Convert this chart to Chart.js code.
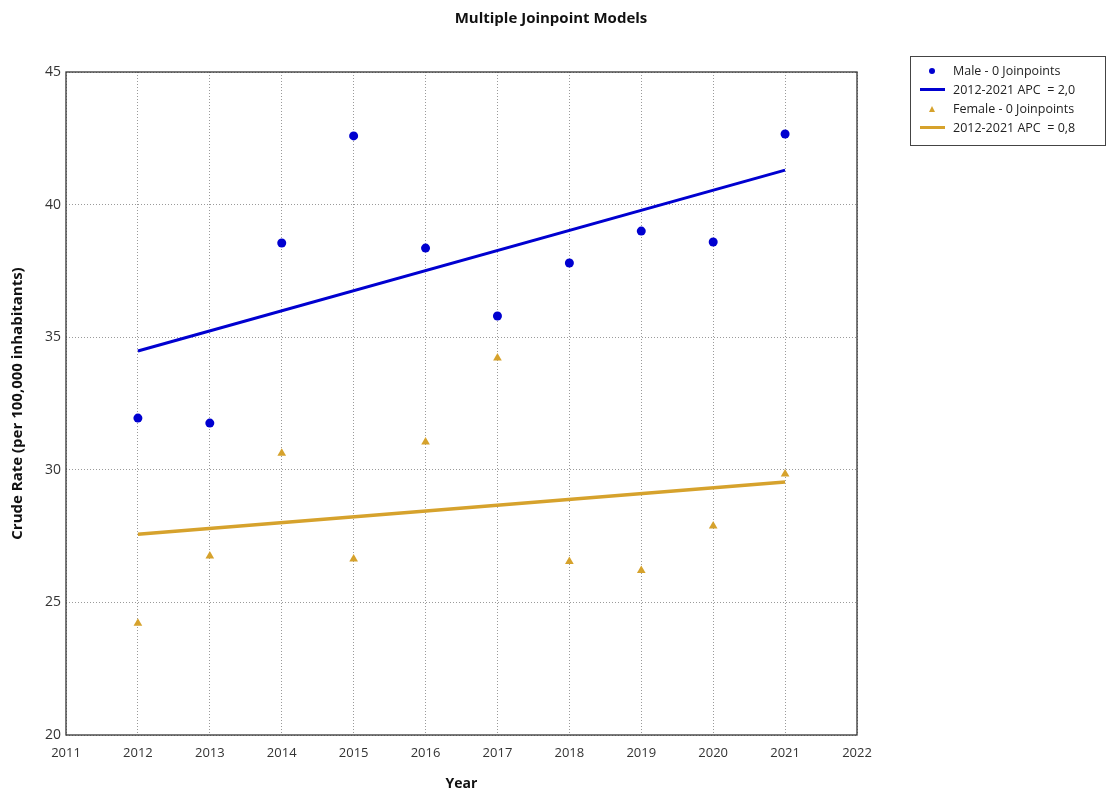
<!DOCTYPE html>
<html lang="en">
<head>
  <meta charset="UTF-8">
  <title>Multiple Joinpoint Models</title>
  <script src="https://cdn.jsdelivr.net/npm/chart.js"></script>
  <style>
    body { margin: 0; background: #fff; font-family: "Open Sans", sans-serif; }
    .wrap { position: relative; width: 1108px; height: 794px; }
    .chart-title {
      position: absolute; top: 7px; left: 0; width: 1102px;
      text-align: center; font-weight: bold; font-size: 15px; color: #111;
    }
    .legend-box {
      position: absolute; left: 910px; top: 56px; width: 196px; height: 90px;
      border: 1px solid #444; box-sizing: border-box; padding-top: 4px;
      font-size: 12.5px; color: #222;
    }
    .legend-row { height: 19px; line-height: 19px; display: flex; align-items: center; white-space: pre; }
    .legend-mark { width: 42px; display: flex; justify-content: center; align-items: center; }
  </style>
</head>
<body>
  <div class="wrap">
    <div class="chart-title">Multiple Joinpoint Models</div>
    <canvas id="jpChart"></canvas>
    <div class="legend-box" id="legend"></div>
  </div>

  <script>
    // values
    const years = [2012, 2013, 2014, 2015, 2016, 2017, 2018, 2019, 2020, 2021];
    const maleRate = [31.95, 31.76, 38.55, 42.59, 38.36, 35.80, 37.80, 39.00, 38.59, 42.66];
    const femaleRate = [24.21, 26.75, 30.62, 26.64, 31.05, 34.22, 26.54, 26.20, 27.88, 29.84];
    const trendYears = [2012, 2021];
    const maleTrend = [34.48, 41.30];
    const femaleTrend = [27.57, 29.54];
    const legendLabels = ['Male - 0 Joinpoints', '2012-2021 APC  = 2,0', 'Female - 0 Joinpoints', '2012-2021 APC  = 0,8'];

    const blue = '#0000d0';
    const gold = '#d6a22c';

    const toPoints = (xs, ys) => xs.map((x, i) => ({ x: x, y: ys[i] }));

    // frame around the plot area
    const frame = {
      id: 'frame',
      afterDraw(chart) {
        const a = chart.chartArea, c = chart.ctx;
        c.save();
        c.strokeStyle = '#333';
        c.lineWidth = 1.3;
        c.strokeRect(a.left, a.top, a.right - a.left, a.bottom - a.top);
        c.restore();
      }
    };

    const ctx = document.getElementById('jpChart').getContext('2d');
    const jpChart = new Chart(ctx, {
      type: 'scatter',
      data: {
        datasets: [
          { label: legendLabels[0], data: toPoints(years, maleRate), pointStyle: 'circle',
            pointRadius: 4.5, backgroundColor: blue, borderColor: blue, borderWidth: 0 },
          { label: legendLabels[1], data: toPoints(trendYears, maleTrend), showLine: true,
            pointRadius: 0, borderColor: blue, borderWidth: 3 },
          { label: legendLabels[2], data: toPoints(years, femaleRate), pointStyle: 'triangle',
            pointRadius: 5, backgroundColor: gold, borderColor: gold, borderWidth: 0 },
          { label: legendLabels[3], data: toPoints(trendYears, femaleTrend), showLine: true,
            pointRadius: 0, borderColor: gold, borderWidth: 3.5 }
        ]
      },
      options: {
        responsive: true,
        maintainAspectRatio: false,
        animation: false,
        layout: { padding: { top: 72, right: 251, bottom: 0, left: 0 } },
        plugins: {
          legend: { display: false },
          tooltip: { enabled: false }
        },
        scales: {
          x: {
            type: 'linear', min: 2011, max: 2022,
            afterFit: s => { s.height = 59; },
            ticks: { stepSize: 1, padding: 10, color: '#333', font: { family: 'Open Sans', size: 13 },
              callback: v => String(v) },
            grid: { color: '#9a9a9a', drawTicks: false, lineWidth: 1 },
            border: { display: false, dash: [1, 2] },
            title: { display: true, text: 'Year', color: '#111', padding: { top: 4, bottom: 2 },
              font: { family: 'Open Sans', size: 14, weight: 'bold' } }
          },
          y: {
            min: 20, max: 45,
            afterFit: s => { s.width = 66; },
            ticks: { stepSize: 5, padding: 5, color: '#333', font: { family: 'Open Sans', size: 14 } },
            grid: { color: '#9a9a9a', drawTicks: false, lineWidth: 1 },
            border: { display: false, dash: [1, 2] },
            title: { display: true, text: 'Crude Rate (per 100,000 inhabitants)', color: '#111',
              padding: { top: 9, bottom: 0 },
              font: { family: 'Open Sans', size: 15, weight: 'bold' } }
          }
        }
      },
      plugins: [frame]
    });

    // legend built from the chart datasets
    const legendEl = document.getElementById('legend');
    jpChart.data.datasets.forEach(ds => {
      const row = document.createElement('div');
      row.className = 'legend-row';
      const mark = document.createElement('span');
      mark.className = 'legend-mark';
      let sym;
      if (ds.showLine) {
        sym = `<span style="display:inline-block;width:25px;height:3px;background:${ds.borderColor}"></span>`;
      } else if (ds.pointStyle === 'triangle') {
        sym = `<span style="display:inline-block;width:0;height:0;border-left:3px solid transparent;border-right:3px solid transparent;border-bottom:6px solid ${ds.backgroundColor}"></span>`;
      } else {
        sym = `<span style="display:inline-block;width:6px;height:6px;border-radius:50%;background:${ds.backgroundColor}"></span>`;
      }
      mark.innerHTML = sym;
      const txt = document.createElement('span');
      txt.textContent = ds.label;
      row.appendChild(mark);
      row.appendChild(txt);
      legendEl.appendChild(row);
    });
  </script>
</body>
</html>
